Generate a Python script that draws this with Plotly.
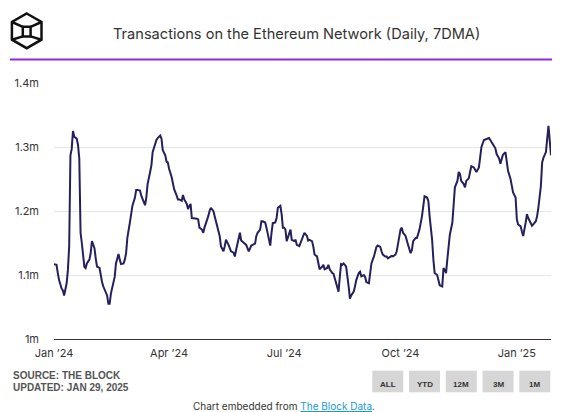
import plotly.graph_objects as go

# ---------------- data ----------------
dates = [
    "2024-01-01", "2024-01-03", "2024-01-04", "2024-01-05", "2024-01-07", "2024-01-08", "2024-01-09",
    "2024-01-11", "2024-01-12", "2024-01-13", "2024-01-14", "2024-01-15", "2024-01-16", "2024-01-17",
    "2024-01-19", "2024-01-20", "2024-01-21", "2024-01-22", "2024-01-23", "2024-01-24", "2024-01-25",
    "2024-01-26", "2024-01-27", "2024-01-29", "2024-01-30", "2024-01-31", "2024-02-02", "2024-02-03",
    "2024-02-04", "2024-02-06", "2024-02-07", "2024-02-08", "2024-02-09", "2024-02-11", "2024-02-12",
    "2024-02-13", "2024-02-14", "2024-02-15", "2024-02-17", "2024-02-18", "2024-02-19", "2024-02-21",
    "2024-02-22", "2024-02-23", "2024-02-25", "2024-02-26", "2024-02-27", "2024-02-28", "2024-03-01",
    "2024-03-02", "2024-03-03", "2024-03-05", "2024-03-06", "2024-03-07", "2024-03-09", "2024-03-10",
    "2024-03-11", "2024-03-13", "2024-03-14", "2024-03-15", "2024-03-17", "2024-03-18", "2024-03-19",
    "2024-03-21", "2024-03-22", "2024-03-23", "2024-03-25", "2024-03-26", "2024-03-27", "2024-03-29",
    "2024-03-30", "2024-03-31", "2024-04-01", "2024-04-03", "2024-04-04", "2024-04-05", "2024-04-07",
    "2024-04-08", "2024-04-09", "2024-04-11", "2024-04-12", "2024-04-13", "2024-04-15", "2024-04-16",
    "2024-04-17", "2024-04-18", "2024-04-19", "2024-04-21", "2024-04-23", "2024-04-24", "2024-04-25",
    "2024-04-27", "2024-04-28", "2024-04-29", "2024-05-01", "2024-05-02", "2024-05-03", "2024-05-04",
    "2024-05-06", "2024-05-07", "2024-05-08", "2024-05-10", "2024-05-11", "2024-05-12", "2024-05-14",
    "2024-05-15", "2024-05-16", "2024-05-18", "2024-05-19", "2024-05-20", "2024-05-22", "2024-05-23",
    "2024-05-24", "2024-05-26", "2024-05-27", "2024-05-28", "2024-05-30", "2024-05-31", "2024-06-01",
    "2024-06-03", "2024-06-04", "2024-06-05", "2024-06-06", "2024-06-08", "2024-06-09", "2024-06-10",
    "2024-06-12", "2024-06-13", "2024-06-14", "2024-06-16", "2024-06-17", "2024-06-18", "2024-06-20",
    "2024-06-21", "2024-06-22", "2024-06-24", "2024-06-25", "2024-06-26", "2024-06-28", "2024-06-29",
    "2024-06-30", "2024-07-01", "2024-07-02", "2024-07-03", "2024-07-05", "2024-07-06", "2024-07-07",
    "2024-07-09", "2024-07-10", "2024-07-11", "2024-07-13", "2024-07-15", "2024-07-16", "2024-07-17",
    "2024-07-19", "2024-07-20", "2024-07-21", "2024-07-23", "2024-07-24", "2024-07-25", "2024-07-27",
    "2024-07-28", "2024-07-29", "2024-07-31", "2024-08-01", "2024-08-02", "2024-08-04", "2024-08-05",
    "2024-08-06", "2024-08-08", "2024-08-09", "2024-08-10", "2024-08-11", "2024-08-13", "2024-08-14",
    "2024-08-15", "2024-08-16", "2024-08-17", "2024-08-18", "2024-08-19", "2024-08-21", "2024-08-22",
    "2024-08-23", "2024-08-25", "2024-08-26", "2024-08-27", "2024-08-29", "2024-08-30", "2024-08-31",
    "2024-09-02", "2024-09-03", "2024-09-04", "2024-09-06", "2024-09-07", "2024-09-08", "2024-09-10",
    "2024-09-11", "2024-09-12", "2024-09-13", "2024-09-15", "2024-09-16", "2024-09-17", "2024-09-19",
    "2024-09-20", "2024-09-21", "2024-09-23", "2024-09-24", "2024-09-25", "2024-09-27", "2024-09-28",
    "2024-09-29", "2024-10-01", "2024-10-02", "2024-10-03", "2024-10-05", "2024-10-06", "2024-10-07",
    "2024-10-09", "2024-10-10", "2024-10-11", "2024-10-13", "2024-10-14", "2024-10-15", "2024-10-16",
    "2024-10-18", "2024-10-19", "2024-10-20", "2024-10-22", "2024-10-23", "2024-10-24", "2024-10-26",
    "2024-10-27", "2024-10-28", "2024-10-30", "2024-10-31", "2024-11-01", "2024-11-03", "2024-11-04",
    "2024-11-05", "2024-11-06", "2024-11-07", "2024-11-08", "2024-11-09", "2024-11-11", "2024-11-12",
    "2024-11-13", "2024-11-15", "2024-11-16", "2024-11-17", "2024-11-18", "2024-11-20", "2024-11-21",
    "2024-11-22", "2024-11-24", "2024-11-25", "2024-11-26", "2024-11-28", "2024-11-29", "2024-11-30",
    "2024-12-02", "2024-12-03", "2024-12-04", "2024-12-06", "2024-12-07", "2024-12-08", "2024-12-10",
    "2024-12-11", "2024-12-12", "2024-12-14", "2024-12-15", "2024-12-16", "2024-12-18", "2024-12-19",
    "2024-12-20", "2024-12-21", "2024-12-23", "2024-12-24", "2024-12-25", "2024-12-27", "2024-12-28",
    "2024-12-29", "2024-12-31", "2025-01-01", "2025-01-02", "2025-01-04", "2025-01-05", "2025-01-06",
    "2025-01-08", "2025-01-09", "2025-01-10", "2025-01-12", "2025-01-13", "2025-01-14", "2025-01-16",
    "2025-01-17", "2025-01-18", "2025-01-20", "2025-01-21", "2025-01-22", "2025-01-23", "2025-01-24",
    "2025-01-25", "2025-01-26", "2025-01-27", "2025-01-28",
]

tx_millions = [
    1.117, 1.116, 1.103, 1.092, 1.079, 1.076, 1.068,
    1.087, 1.108, 1.145, 1.287, 1.297, 1.325, 1.316,
    1.313, 1.303, 1.282, 1.166, 1.150, 1.124, 1.113,
    1.111, 1.118, 1.124, 1.134, 1.153, 1.142, 1.126,
    1.113, 1.111, 1.098, 1.089, 1.082, 1.074, 1.068,
    1.055, 1.055, 1.071, 1.087, 1.097, 1.118, 1.133,
    1.124, 1.117, 1.118, 1.124, 1.134, 1.158, 1.182,
    1.192, 1.208, 1.221, 1.233, 1.233, 1.232, 1.224,
    1.218, 1.209, 1.221, 1.242, 1.261, 1.271, 1.292,
    1.307, 1.311, 1.314, 1.318, 1.313, 1.295, 1.287,
    1.277, 1.276, 1.266, 1.253, 1.245, 1.234, 1.224,
    1.218, 1.218, 1.216, 1.225, 1.218, 1.211, 1.203,
    1.208, 1.211, 1.189, 1.189, 1.188, 1.187, 1.174,
    1.171, 1.166, 1.174, 1.184, 1.192, 1.200, 1.205,
    1.200, 1.192, 1.187, 1.171, 1.161, 1.145, 1.137,
    1.145, 1.155, 1.147, 1.142, 1.137, 1.135, 1.129,
    1.139, 1.155, 1.166, 1.154, 1.151, 1.149, 1.147,
    1.137, 1.142, 1.146, 1.147, 1.149, 1.161, 1.166,
    1.171, 1.184, 1.184, 1.182, 1.174, 1.166, 1.146,
    1.166, 1.181, 1.182, 1.189, 1.205, 1.208, 1.195,
    1.174, 1.174, 1.171, 1.153, 1.163, 1.171, 1.155,
    1.153, 1.155, 1.147, 1.145, 1.155, 1.163, 1.166,
    1.161, 1.154, 1.155, 1.153, 1.145, 1.132, 1.129,
    1.118, 1.109, 1.113, 1.116, 1.109, 1.111, 1.116,
    1.109, 1.103, 1.102, 1.095, 1.087, 1.074, 1.097,
    1.117, 1.116, 1.118, 1.116, 1.113, 1.082, 1.063,
    1.068, 1.074, 1.082, 1.092, 1.103, 1.105, 1.098,
    1.100, 1.097, 1.089, 1.087, 1.105, 1.118, 1.129,
    1.137, 1.144, 1.146, 1.144, 1.137, 1.132, 1.129,
    1.129, 1.126, 1.129, 1.130, 1.129, 1.132, 1.137,
    1.147, 1.171, 1.174, 1.166, 1.161, 1.153, 1.147,
    1.134, 1.139, 1.153, 1.158, 1.158, 1.166, 1.171,
    1.192, 1.211, 1.223, 1.221, 1.216, 1.192, 1.155,
    1.124, 1.103, 1.100, 1.092, 1.084, 1.082, 1.111,
    1.108, 1.103, 1.124, 1.150, 1.163, 1.182, 1.218,
    1.237, 1.247, 1.261, 1.258, 1.247, 1.242, 1.237,
    1.247, 1.251, 1.261, 1.270, 1.268, 1.263, 1.261,
    1.268, 1.287, 1.300, 1.311, 1.312, 1.312, 1.314,
    1.311, 1.308, 1.303, 1.298, 1.289, 1.282, 1.274,
    1.282, 1.288, 1.292, 1.279, 1.263, 1.250, 1.239,
    1.229, 1.221, 1.187, 1.179, 1.176, 1.168, 1.161,
    1.182, 1.195, 1.189, 1.182, 1.177, 1.179, 1.184,
    1.192, 1.205, 1.239, 1.276, 1.283, 1.287, 1.292,
    1.313, 1.333, 1.310, 1.287,
]

x_tick_vals = ["2024-01-01", "2024-04-01", "2024-07-01", "2024-10-01", "2025-01-01"]
x_tick_text = ["Jan \u201924", "Apr \u201924", "Jul \u201924", "Oct \u201924", "Jan \u201925"]
y_tick_vals = [1.0, 1.1, 1.2, 1.3, 1.4]
y_tick_text = ["1m", "1.1m", "1.2m", "1.3m", "1.4m"]

title_text = "Transactions on the Ethereum Network (Daily, 7DMA)"
source_lines = ["SOURCE: THE BLOCK", "UPDATED: JAN 29, 2025"]
range_buttons = ["ALL", "YTD", "12M", "3M", "1M"]

# ---------------- layout helpers ----------------
# The page body adds an 8px margin, so the figure is 8px smaller and
# positions below are given in window pixels, converted to figure coordinates.
OFF = 8
W, H = 562 - OFF, 412 - OFF
ML, MR, MT, MB = 46, 11, 75, 73
PW, PH = W - ML - MR, H - MT - MB


def px(x):
    return (x - OFF - ML) / PW


def py(y):
    return (H - MB - (y - OFF)) / PH


FONT = "Inter, Roboto, sans-serif"

fig = go.Figure()
fig.add_trace(go.Scatter(
    x=dates, y=tx_millions, mode="lines",
    line=dict(color="#24205c", width=2),
    hovertemplate="%{x|%b %d, %Y}: %{y:.3f}m<extra></extra>",
    showlegend=False,
))

shapes = []
annotations = []

# purple rule under header
shapes.append(dict(type="line", xref="paper", yref="paper",
                   x0=px(10), x1=px(552), y0=py(59.5), y1=py(59.5),
                   line=dict(color="#8a2be2", width=2)))

# logo (cube in hexagon)
hexpts = [(26.7, 13.5), (41.5, 22.0), (41.5, 39.7), (26.7, 48.2), (11.9, 39.7), (11.9, 22.0)]
path = "M " + " L ".join(f"{px(a)},{py(b)}" for a, b in hexpts) + " Z"
shapes.append(dict(type="path", xref="paper", yref="paper", path=path,
                   line=dict(color="#111111", width=2.5)))
sq = (22.8, 26.8, 30.6, 36.4)
shapes.append(dict(type="rect", xref="paper", yref="paper",
                   x0=px(sq[0]), x1=px(sq[2]), y0=py(sq[3]), y1=py(sq[1]),
                   line=dict(color="#111111", width=2.5)))
for (a, b), (c, d) in [((sq[0], sq[1]), hexpts[5]), ((sq[2], sq[1]), hexpts[1]),
                       ((sq[0], sq[3]), hexpts[4]), ((sq[2], sq[3]), hexpts[2])]:
    shapes.append(dict(type="line", xref="paper", yref="paper",
                       x0=px(a), y0=py(b), x1=px(c), y1=py(d),
                       line=dict(color="#111111", width=2.5)))

# title
annotations.append(dict(text=title_text, xref="paper", yref="paper",
                        x=px(296.5), y=py(34), xanchor="center", yanchor="middle",
                        showarrow=False, font=dict(family=FONT, size=14.6, color="#333333")))

# source lines
for i, t in enumerate(source_lines):
    annotations.append(dict(text=f"<b>{t}</b>", xref="paper", yref="paper",
                            x=px(10.5), y=py(375.5 + 12 * i), xanchor="left", yanchor="middle",
                            showarrow=False,
                            font=dict(family="Liberation Sans, Arial, sans-serif", size=10,
                                      color="#555555")))

# range buttons
bx0, bw, bgap = 372.3, 31.0, 5.75
for i, lab in enumerate(range_buttons):
    x0 = bx0 + i * (bw + bgap)
    shapes.append(dict(type="rect", xref="paper", yref="paper",
                       x0=px(x0), x1=px(x0 + bw), y0=py(392.3), y1=py(370.7),
                       fillcolor="#d6d6d6", line=dict(width=0)))
    annotations.append(dict(text=f"<b>{lab}</b>", xref="paper", yref="paper",
                            x=px(x0 + bw / 2), y=py(384), xanchor="center", yanchor="middle",
                            showarrow=False,
                            font=dict(family="Liberation Sans, Arial, sans-serif", size=8,
                                      color="#333333")))

# caption
annotations.append(dict(
    text="Chart embedded from <a href='https://www.theblock.co/data'>"
         "<span style='color:#1a9bd7;text-decoration:underline'>The Block Data</span></a>.",
    xref="paper", yref="paper", x=px(283.5), y=py(406), xanchor="center", yanchor="middle",
    showarrow=False, font=dict(family=FONT, size=10, color="#333333")))

fig.update_layout(
    width=W, height=H,
    margin=dict(l=ML, r=MR, t=MT, b=MB, pad=0),
    paper_bgcolor="white", plot_bgcolor="white",
    shapes=shapes, annotations=annotations,
    showlegend=False,
    xaxis=dict(type="date", range=[dates[0], dates[-1]],
               tickvals=x_tick_vals, ticktext=x_tick_text,
               showgrid=False, zeroline=False, showline=True,
               linecolor="#333333", linewidth=1, ticks="",
               ticklabelstandoff=4, automargin=False,
               tickfont=dict(family=FONT, size=11, color="#333333"),
               fixedrange=True),
    yaxis=dict(range=[1.0, 1.4], tickvals=y_tick_vals, ticktext=y_tick_text,
               showgrid=True, gridcolor="#e6e6e6", gridwidth=1,
               zeroline=False, showline=False, ticks="",
               ticklabelstandoff=14, automargin=False,
               tickfont=dict(family=FONT, size=11, color="#333333"),
               fixedrange=True),
)

fig.write_html("out.html")
